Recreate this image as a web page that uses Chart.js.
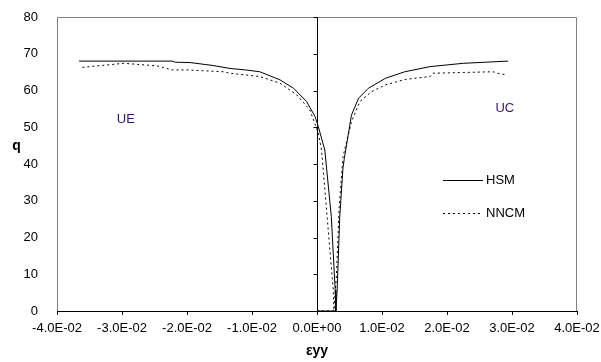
<!DOCTYPE html>
<html>
<head>
<meta charset="utf-8">
<script src="https://cdn.jsdelivr.net/npm/chart.js@4.4.1/dist/chart.umd.min.js"></script>
<style>
  html, body { margin: 0; padding: 0; background: #fff; }
  #chartQ { display: block; }
</style>
</head>
<body>
<canvas id="chartQ" width="601" height="362"></canvas>
<script>
// HSM, unloading in extension (UE) branch
var hsmUeX = [-0.0366, -0.0300, -0.0223, -0.0218, -0.0195, -0.0160, -0.0134, -0.0110, -0.0088, -0.0057, -0.0036, -0.0016, -0.0003, 0.0002, 0.0012, 0.0022, 0.0028, 0.0029];
var hsmUeQ = [68.0, 68.0, 68.0, 67.7, 67.6, 66.8, 66.0, 65.6, 65.1, 62.9, 60.6, 57.0, 52.9, 50.2, 43.8, 25.7, 5.7, 0];
// HSM, compression (UC) branch
var hsmUcX = [0, 0.0029, 0.0031, 0.0035, 0.0040, 0.0042, 0.0048, 0.0053, 0.0064, 0.0079, 0.0105, 0.0135, 0.0174, 0.0225, 0.0294];
var hsmUcQ = [0, 0, 5.7, 25.7, 39.0, 41.5, 47.9, 53.3, 57.9, 60.6, 63.3, 65.1, 66.5, 67.4, 68.0];
// NNCM
var nncmUeX = [-0.0361, -0.0297, -0.0246, -0.0223, -0.0200, -0.0144, -0.0134, -0.0088, -0.0057, -0.0031, -0.0011, 0.0002, 0.0007, 0.0025, 0.0026];
var nncmUeQ = [66.3, 67.4, 66.7, 65.6, 65.6, 65.1, 64.7, 63.8, 62.0, 58.8, 54.7, 48.4, 43.8, 5.7, 0];
var nncmUcX = [0, 0.0026, 0.0030, 0.0034, 0.0040, 0.0053, 0.0066, 0.0084, 0.0105, 0.0135, 0.0174, 0.0178, 0.0225, 0.0271, 0.0278, 0.0292];
var nncmUcQ = [0, 0, 10.0, 28.0, 42.0, 51.5, 57.0, 59.7, 61.5, 63.0, 63.8, 64.7, 64.9, 65.1, 64.7, 64.2];

var seriesNames = ["HSM", "NNCM"];
var regionLabels = [{ text: "UE", x: -0.0294, q: 52.2 }, { text: "UC", x: 0.0289, q: 55.2 }];

var xMin = -0.04, xMax = 0.04, xStep = 0.01;
var qMin = 0, qMax = 80, qStep = 10;

var FONT = "'Liberation Sans', Arial, sans-serif";
Chart.defaults.font.family = FONT;
Chart.defaults.font.size = 13;
Chart.defaults.color = "#000";

function pts(xs, ys) {
	var out = [];
	for (var i = 0; i < xs.length; i++) out.push({ x: xs[i], y: ys[i] });
	return out;
}

function sci(v) {
	if (Math.abs(v) < 1e-9) return "0.0E+00";
	var parts = v.toExponential(1).split("e");
	var e = parseInt(parts[1], 10);
	return parts[0] + "E" + (e < 0 ? "-" : "+") + String(Math.abs(e)).padStart(2, "0");
}

function lineSet(data, dashed) {
	return {
		data: data,
		showLine: true,
		borderColor: "#000",
		borderWidth: 1,
		borderDash: dashed ? [2, 3] : [],
		pointRadius: 0,
		tension: 0,
		fill: false
	};
}

// frame, axis at x = 0, titles, region text and legend
var decor = {
	id: "decor",
	beforeDatasetsDraw: function(chart) {
		var ctx = chart.ctx, a = chart.chartArea;
		var sx = chart.scales.x, sy = chart.scales.y;
		ctx.save();
		ctx.strokeStyle = "#808080";
		ctx.lineWidth = 1;
		ctx.beginPath();
		ctx.moveTo(a.left + 0.5, a.bottom);
		ctx.lineTo(a.left + 0.5, a.top + 0.5);
		ctx.lineTo(a.right - 0.5, a.top + 0.5);
		ctx.lineTo(a.right - 0.5, a.bottom);
		ctx.stroke();

		var x0 = Math.round(sx.getPixelForValue(0)) + 0.5;
		ctx.strokeStyle = "#000";
		ctx.beginPath();
		ctx.moveTo(x0, a.top);
		ctx.lineTo(x0, a.bottom);
		for (var q = qMin; q <= qMax; q += qStep) {
			var py = Math.round(sy.getPixelForValue(q)) + 0.5;
			ctx.moveTo(x0 - 4, py);
			ctx.lineTo(x0, py);
		}
		ctx.stroke();
		ctx.restore();
	},
	afterDatasetsDraw: function(chart) {
		var ctx = chart.ctx, a = chart.chartArea;
		var sx = chart.scales.x, sy = chart.scales.y;
		ctx.save();
		ctx.font = "bold 14px " + FONT;
		ctx.fillStyle = "#000";
		ctx.textAlign = "center";
		ctx.textBaseline = "alphabetic";
		ctx.fillText("q", 16.5, 150);

		ctx.font = "13px " + FONT;
		ctx.fillStyle = "#3a1466";
		ctx.textBaseline = "middle";
		regionLabels.forEach(function(r) {
			ctx.fillText(r.text, sx.getPixelForValue(r.x), sy.getPixelForValue(r.q));
		});

		// legend
		var lx = 443, ly = [180.5, 213.5];
		ctx.textAlign = "left";
		ctx.fillStyle = "#000";
		ctx.strokeStyle = "#000";
		ctx.lineWidth = 1;
		for (var i = 0; i < seriesNames.length; i++) {
			ctx.setLineDash(i === 1 ? [2, 3] : []);
			ctx.beginPath();
			ctx.moveTo(lx, ly[i]);
			ctx.lineTo(lx + 40, ly[i]);
			ctx.stroke();
			ctx.fillText(seriesNames[i], lx + 43, ly[i]);
		}
		ctx.restore();
	}
};

new Chart(document.getElementById("chartQ"), {
	type: "scatter",
	data: {
		datasets: [
			lineSet(pts(hsmUeX, hsmUeQ), false),
			lineSet(pts(hsmUcX, hsmUcQ), false),
			lineSet(pts(nncmUeX, nncmUeQ), true),
			lineSet(pts(nncmUcX, nncmUcQ), true)
		]
	},
	plugins: [decor],
	options: {
		responsive: false,
		animation: false,
		layout: { padding: { top: 17, right: 24, left: 0, bottom: 0 } },
		plugins: { legend: { display: false }, tooltip: { enabled: false } },
		scales: {
			x: {
				type: "linear",
				min: xMin, max: xMax,
				afterFit: function(s) { s.height = 51; s.paddingLeft = 0; s.paddingRight = 0; },
				ticks: { stepSize: xStep, padding: 6, maxRotation: 0, autoSkip: false, callback: sci },
				grid: { drawOnChartArea: false, drawTicks: true, tickLength: 4, color: "#000" },
				border: { color: "#000" },
				title: { display: true, text: "εyy", font: { weight: "bold", size: 14 }, padding: { top: 0, bottom: 2 } }
			},
			y: {
				min: qMin, max: qMax,
				afterFit: function(s) { s.width = 57; s.paddingTop = 0; s.paddingBottom = 0; },
				ticks: { stepSize: qStep, padding: 11 },
				grid: { display: false },
				border: { display: false }
			}
		}
	}
});
</script>
</body>
</html>
